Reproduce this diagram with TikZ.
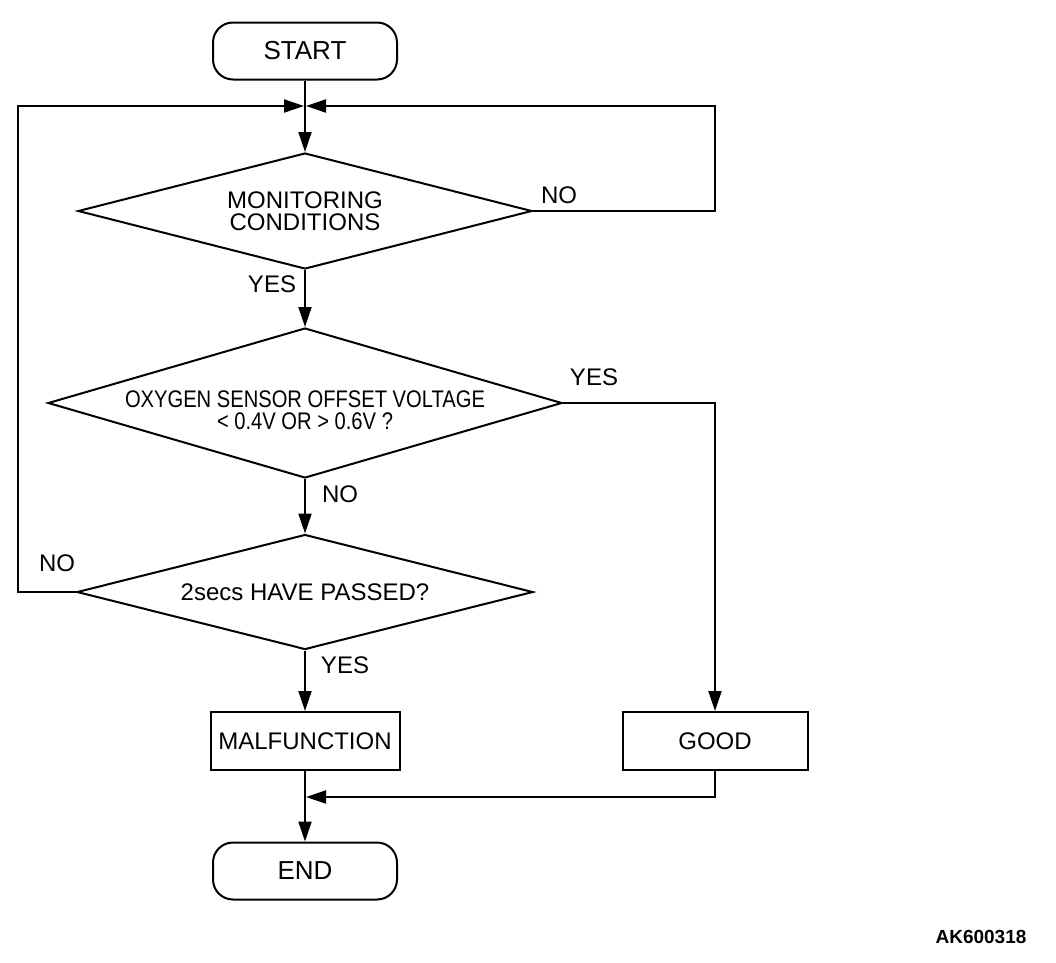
\documentclass[tikz,border=0pt]{standalone}
\usepackage{fontspec}
\setmainfont{Liberation Sans}
\newfontfamily\narrowsans{Liberation Sans}[FakeStretch=0.84]
\usetikzlibrary{shapes.geometric,arrows.meta}

\newcommand{\lowered}[1]{\raisebox{-7pt}[\height][\depth]{#1}}

\begin{document}
\begin{tikzpicture}[
  x=1pt, y=-1pt, % one unit per pixel, y runs down
  line width=2pt,
  terminal/.style={draw, rectangle, rounded corners=20pt, minimum width=184pt,
    minimum height=57pt, font=\fontsize{26}{28}\selectfont},
  process/.style={draw, rectangle, minimum height=58pt, font=\fontsize{24}{26}\selectfont},
  decision/.style={draw, diamond, inner sep=0pt, align=center,
    font=\fontsize{24}{22}\selectfont},
  answer/.style={font=\fontsize{24}{26}\selectfont, inner sep=0pt},
  arr/.style={-{Triangle[length=20pt,width=13pt]}}
]
  % ---- page size ----
  \def\W{1056} % width
  \def\H{962}  % height

  % ---- background ----
  \fill[white] (0,0) rectangle (\W,\H);
  \useasboundingbox (0,0) rectangle (\W,\H);

  % ---- boxes, top to bottom ----
  \node[terminal] (start) at (305,51) {START};
  \node[decision, shape aspect=3.9, minimum width=454pt, minimum height=116pt] (mon) at (305,211)
    {MONITORING\\CONDITIONS};
  \node[decision, shape aspect=3.4, minimum width=514pt, minimum height=150pt,
    font=\narrowsans\fontsize{24}{22}\selectfont] (oxy) at (305,403)
    {\lowered{OXYGEN SENSOR OFFSET VOLTAGE}\\\lowered{< 0.4V OR > 0.6V ?}};
  \node[decision, shape aspect=3.9, minimum width=456pt, minimum height=115pt] (pass) at (305,592)
    {2secs HAVE PASSED?};
  \node[process, minimum width=189pt] (malf) at (305,741) {MALFUNCTION};
  \node[process, minimum width=185pt] (good) at (715,741) {GOOD};
  \node[terminal] (stop) at (305,871) {END};

  % ---- corner points of the loops ----
  \coordinate (join) at (305,106);
  \coordinate (rloop) at (715,106);
  \coordinate (lloop) at (18,106);
  \coordinate (merge) at (305,797);

  % ---- main line ----
  \draw[arr] (start) -- (mon);
  \draw[arr] (mon.south) -- (oxy.north);
  \draw[arr] (oxy.south) -- (pass.north);
  \draw[arr] (pass.south) -- (malf.north);
  \draw[arr] (malf.south) -- (stop.north);

  % ---- side branches ----
  \draw[arr] (mon.east) -| (rloop) -- ([xshift=1pt]join);
  \draw[arr] (pass.west) -| (lloop) -- ([xshift=-1pt]join);
  \draw[arr] (oxy.east) -| (good.north);
  \draw[arr] (good.south) |- ([xshift=1pt]merge);

  % ---- answers ----
  \node[answer] (monno) at (559,195) {NO};
  \node[answer] (monyes) at (272,284) {YES};
  \node[answer] (oxyyes) at (594,377) {YES};
  \node[answer] (oxyno) at (340,494) {NO};
  \node[answer] (passno) at (57,563) {NO};
  \node[answer] (passyes) at (345,665) {YES};

  % figure code
  \node[font=\bfseries\fontsize{19}{21}\selectfont] (code) at (981,937) {AK600318};
\end{tikzpicture}
\end{document}
